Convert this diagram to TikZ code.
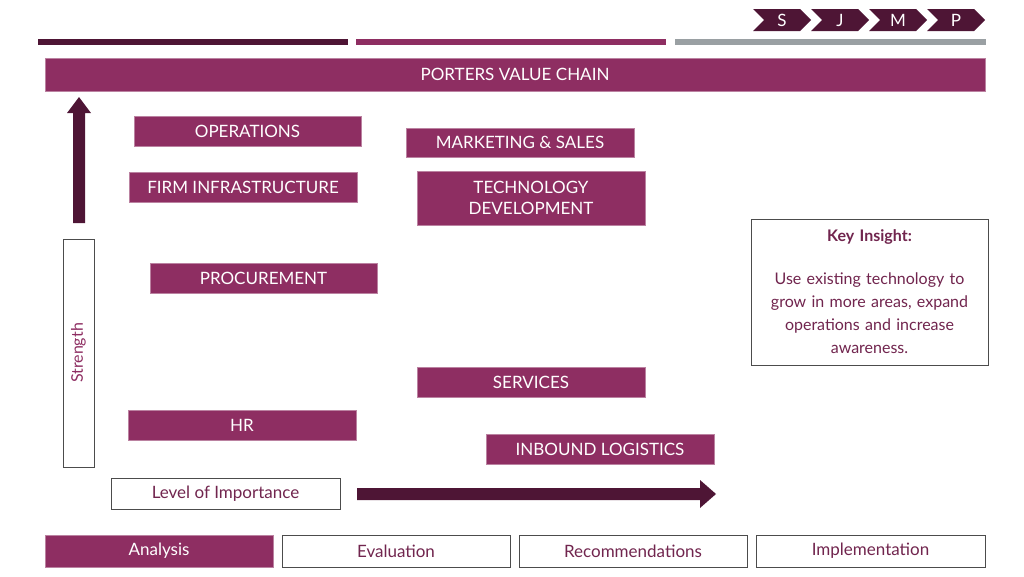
\documentclass[tikz,border=0pt]{standalone}
\usepackage{fontspec}
\setmainfont{Lato}
\usetikzlibrary{shapes.symbols,calc}
\definecolor{mag}{HTML}{8E2E62}
\definecolor{dk}{HTML}{4E1535}
\definecolor{gr}{HTML}{9AA0A3}
\begin{document}
\begin{tikzpicture}[x=1pt,y=-1pt,
  mbox/.style={fill=mag,draw=mag!60,text=white,font=\fontsize{17}{21}\selectfont,inner sep=0pt,align=center},
  wbox/.style={draw=black!70,fill=white,text=mag!80!black,font=\fontsize{17}{21}\selectfont,inner sep=0pt,align=center},
  chev/.style={signal,signal to=east,signal from=west,fill=dk,text=white,minimum height=22pt,minimum width=58pt,inner sep=0pt,font=\fontsize{17}{21}\selectfont}]
\useasboundingbox (0,0) rectangle (1024,576);
% top bars
\fill[dk] (38,39) rectangle (348,45);
\fill[mag] (356,39) rectangle (666,45);
\fill[gr] (675,39) rectangle (986,45);
\node[chev] (s) at (782,20) {S};
\node[chev] (j) at (840,20) {J};
\node[chev] (m) at (898,20) {M};
\node[chev] (p) at (956,20) {P};
\node[mbox,minimum width=940pt,minimum height=33pt] (title) at (515,74.5) {PORTERS VALUE CHAIN};
% boxes
\newcommand{\mb}[6]{\node[mbox,minimum width=#3pt,minimum height=#4pt] (#5) at (#1,#2) {#6};}
\mb{247.5}{131}{227}{30}{ops}{OPERATIONS}
\mb{520}{142.5}{228}{29}{mkt}{MARKETING \& SALES}
\mb{243}{187}{228}{30}{firm}{FIRM INFRASTRUCTURE}
\mb{531}{198}{228}{54}{tech}{TECHNOLOGY\\DEVELOPMENT}
\mb{263.5}{278}{227}{30}{proc}{PROCUREMENT}
\mb{531}{382}{228}{30}{serv}{SERVICES}
\mb{242}{425}{228}{30}{hr}{HR}
\mb{600}{449}{228}{30}{inb}{INBOUND LOGISTICS}
% key insight
\node[wbox,minimum width=237pt,minimum height=146pt,text width=225pt,font=\fontsize{16}{23}\selectfont] (key) at (869.5,292)
 {\textbf{Key Insight:}\\[20pt]\hyphenpenalty=10000 Use existing technology to\\grow in more areas, expand\\operations and increase\\awareness.};
% strength
\node[wbox,minimum width=31pt,minimum height=228pt] (str) at (78.5,353) {};
\node[rotate=90,text=mag,font=\fontsize{16}{20}\selectfont] (strl) at (78.5,353) {Strength};
\fill[dk] (73,223) -- (73,113) -- (67,113) -- (79,97) -- (91,113) -- (85,113) -- (85,223) -- cycle;
% importance
\node[wbox,minimum width=229pt,minimum height=31pt] (imp) at (225.5,493.5) {Level of Importance};
\fill[dk] (357,488) -- (700,488) -- (700,480) -- (716,494) -- (700,508) -- (700,500) -- (357,500) -- cycle;
% tabs
\node[mbox,minimum width=228pt,minimum height=32pt,fill=mag] (an) at (159,551) {Analysis};
\node[wbox,minimum width=228pt,minimum height=32pt] (ev) at (396,551) {Evaluation};
\node[wbox,minimum width=228pt,minimum height=32pt] (re) at (633,551) {Recommendations};
\node[wbox,minimum width=229pt,minimum height=32pt] (im) at (870.5,551) {Implementation};
\end{tikzpicture}
\end{document}
